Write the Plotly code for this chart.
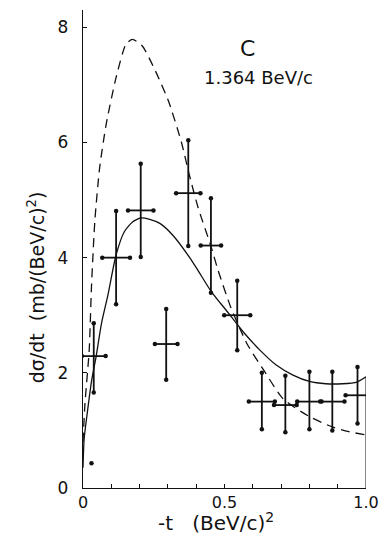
import plotly.graph_objects as go

# Measured differential cross section, C target, 1.364 BeV/c
t_center = [0.038, 0.117, 0.204, 0.294, 0.372, 0.452, 0.545, 0.632, 0.715, 0.800, 0.881, 0.970]
t_half = [0.042, 0.049, 0.045, 0.040, 0.043, 0.036, 0.046, 0.046, 0.040, 0.043, 0.043, 0.042]
dsdt = [2.29, 4.00, 4.82, 2.50, 5.12, 4.21, 3.00, 1.50, 1.44, 1.50, 1.50, 1.61]
err_up = [0.57, 0.81, 0.81, 0.61, 0.92, 0.82, 0.60, 0.50, 0.51, 0.52, 0.52, 0.49]
err_dn = [0.63, 0.81, 0.81, 0.62, 0.92, 0.82, 0.61, 0.48, 0.47, 0.48, 0.50, 0.49]

# Isolated low-t measurement
t_single = [0.03]
dsdt_single = [0.43]

# Model curves
t_solid = [0.0, 0.004, 0.015, 0.03, 0.047, 0.065, 0.088, 0.117, 0.146, 0.175, 0.204,
           0.233, 0.273, 0.319, 0.377, 0.406, 0.452, 0.51, 0.568, 0.626, 0.684,
           0.742, 0.80, 0.858, 0.916, 0.968, 1.0]
y_solid = [0.35, 0.85, 1.3, 1.85, 2.3, 2.85, 3.35, 4.05, 4.45, 4.62, 4.69,
           4.67, 4.59, 4.38, 4.0, 3.78, 3.42, 3.06, 2.7, 2.39, 2.13,
           1.96, 1.85, 1.81, 1.81, 1.84, 1.93]

t_dash = [0.0, 0.007, 0.022, 0.030, 0.042, 0.059, 0.082, 0.117, 0.152, 0.175,
          0.209, 0.256, 0.302, 0.348, 0.375, 0.406, 0.452, 0.476, 0.522, 0.58,
          0.638, 0.707, 0.80, 0.881, 0.939, 1.0]
y_dash = [0.8, 1.47, 2.4, 3.5, 4.65, 5.57, 6.32, 7.13, 7.71, 7.79,
          7.68, 7.24, 6.72, 6.0, 5.45, 4.88, 4.2, 3.8, 3.14, 2.5,
          2.05, 1.55, 1.24, 1.06, 0.98, 0.92]

ink = "#111111"
font_family = "DejaVu Sans"

fig = go.Figure()

# Curves
fig.add_trace(go.Scatter(x=t_dash, y=y_dash, mode="lines",
                         line=dict(color=ink, width=1.3, dash="9px,6px", shape="spline", smoothing=0.6),
                         hoverinfo="skip"))
fig.add_trace(go.Scatter(x=t_solid, y=y_solid, mode="lines",
                         line=dict(color=ink, width=1.3, shape="spline", smoothing=0.6),
                         hoverinfo="skip"))

# Edge line at the end of the fitted range
fig.add_trace(go.Scatter(x=[t_solid[-1], t_solid[-1]], y=[0, y_solid[-1]], mode="lines",
                         line=dict(color=ink, width=1), hoverinfo="skip"))

# Data crosses
fig.add_trace(go.Scatter(
    x=t_center, y=dsdt, mode="markers",
    marker=dict(size=1, color=ink),
    error_x=dict(type="data", array=t_half, color=ink, thickness=1.8, width=0),
    error_y=dict(type="data", symmetric=False, array=err_up, arrayminus=err_dn,
                 color=ink, thickness=1.8, width=0),
))

# Dots at the ends of each bar
end_x, end_y = [], []
for t, y, h, up, dn in zip(t_center, dsdt, t_half, err_up, err_dn):
    end_x += [t - h, t + h, t, t]
    end_y += [y, y, y + up, y - dn]
fig.add_trace(go.Scatter(x=end_x, y=end_y, mode="markers",
                         marker=dict(size=4.5, color=ink), hoverinfo="skip"))
fig.add_trace(go.Scatter(x=t_single, y=dsdt_single, mode="markers",
                         marker=dict(size=4.5, color=ink), hoverinfo="skip"))

fig.update_layout(
    width=389, height=539,
    margin=dict(l=83, r=18, t=10, b=51),
    paper_bgcolor="white", plot_bgcolor="white",
    showlegend=False,
    font=dict(family=font_family, color=ink, size=15),
    xaxis=dict(range=[0, 1.0], showgrid=False, zeroline=False,
               showline=True, linecolor=ink, linewidth=1.3,
               tickvals=[0, 0.5, 1.0], ticktext=["0", "0.5", "1.0"],
               ticks="inside", ticklen=4, tickcolor=ink, tickwidth=1,
               minor=dict(dtick=0.1, ticks="inside", ticklen=4, tickcolor=ink, tickwidth=1),
               tickfont=dict(size=16), fixedrange=True),
    yaxis=dict(range=[0, 8.3], showgrid=False, zeroline=False,
               showline=True, linecolor=ink, linewidth=1.3,
               tickvals=[0, 2, 4, 6, 8], ticktext=["0", "2", "4", "6", "8"],
               ticks="inside", ticklen=4, tickcolor=ink, tickwidth=1,
               tickfont=dict(size=17), ticklabelstandoff=10, fixedrange=True),
)

fig.add_annotation(x=0.58, y=7.64, xref="x", yref="y", text="C", showarrow=False,
                   xanchor="center", yanchor="middle", font=dict(size=22))
fig.add_annotation(x=0.62, y=7.12, xref="x", yref="y", text="1.364 BeV/c", showarrow=False,
                   xanchor="center", yanchor="middle", font=dict(size=18))
fig.add_annotation(x=-0.167, y=3.48, xref="paper", yref="y",
                   text="dσ/dt  (mb/(BeV/c)<sup>2</sup>)", textangle=-90,
                   xanchor="center", yanchor="middle",
                   showarrow=False, font=dict(size=19))
fig.add_annotation(x=0.47, y=-0.071, xref="x", yref="paper",
                   text="-t   (BeV/c)<sup>2</sup>", showarrow=False,
                   xanchor="center", yanchor="middle", font=dict(size=20))

fig.write_html("out.html")
